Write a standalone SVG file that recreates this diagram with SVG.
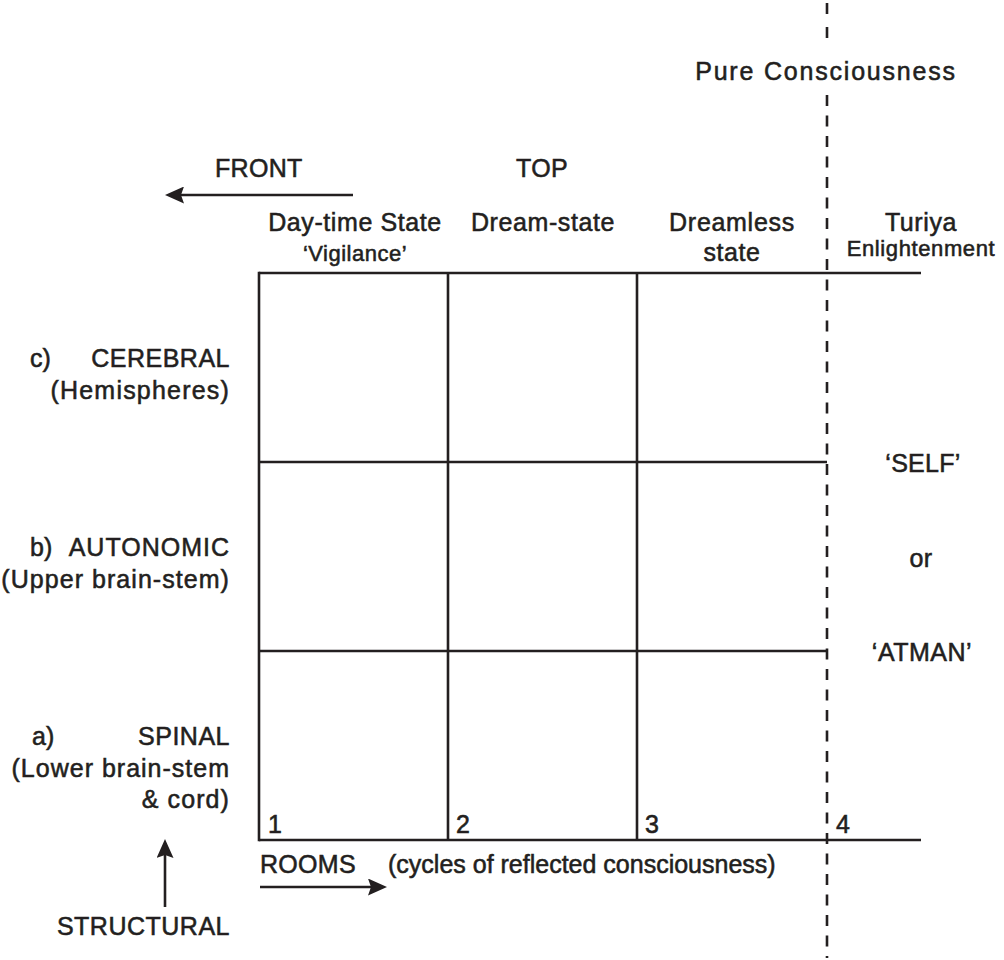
<svg xmlns="http://www.w3.org/2000/svg" width="1004" height="960" viewBox="0 0 1004 960">
<style>
  text { font-family: "Liberation Sans", Arial, sans-serif; fill: #231f20; font-size: 25px; stroke: #231f20; stroke-width: 0.55px; }
  .sm { font-size: 22px; }
  .mid { text-anchor: middle; }
  .end { text-anchor: end; }
  .ln { stroke: #231f20; stroke-width: 2.6; fill: none; }
  .dash { stroke: #231f20; stroke-width: 2.6; fill: none; stroke-dasharray: 11 9.5; }
  .arr { stroke: #231f20; stroke-width: 2.6; fill: none; marker-end: url(#ah); }
</style>
<defs>
  <marker id="ah" markerUnits="userSpaceOnUse" markerWidth="19" markerHeight="17" refX="10" refY="8.5" orient="auto">
    <path d="M0,0 L19,8.5 L0,17 L3,8.5 z" fill="#231f20"/>
  </marker>
</defs>
<rect width="1004" height="960" fill="#ffffff"/>

<g id="grid">
  <line class="ln" x1="259" y1="273" x2="921" y2="273"/>
  <line class="ln" x1="259" y1="462" x2="827" y2="462"/>
  <line class="ln" x1="259" y1="651" x2="827" y2="651"/>
  <line class="ln" x1="259" y1="840" x2="921" y2="840"/>
  <line class="ln" x1="259" y1="271.7" x2="259" y2="841.3"/>
  <line class="ln" x1="448" y1="273" x2="448" y2="840"/>
  <line class="ln" x1="637" y1="273" x2="637" y2="840"/>
</g>

<g id="pure-consciousness-line">
  <line class="dash" x1="827" y1="3" x2="827" y2="40" style="stroke-dasharray: 11 13"/>
  <line class="dash" x1="827" y1="95" x2="827" y2="958"/>
  <text x="826" y="80" class="mid" letter-spacing="1.8">Pure Consciousness</text>
</g>

<g id="connectors">
  <line class="arr" x1="353" y1="195" x2="174" y2="195"/>
  <line class="arr" x1="260" y1="887" x2="378" y2="887"/>
  <line class="arr" x1="165" y1="907" x2="165" y2="848"/>
</g>

<g id="front"><text x="215" y="177" letter-spacing="0.3">FRONT</text></g>
<g id="top"><text x="542" y="177" class="mid" letter-spacing="0.3">TOP</text></g>

<g id="col-1">
  <text x="355" y="231" class="mid" letter-spacing="0.6">Day-time State</text>
  <text x="355" y="261" class="mid sm" letter-spacing="0.5">‘Vigilance’</text>
</g>
<g id="col-2"><text x="543" y="231" class="mid" letter-spacing="0.6">Dream-state</text></g>
<g id="col-3">
  <text x="732" y="231" class="mid" letter-spacing="0.7">Dreamless</text>
  <text x="732" y="261" class="mid" letter-spacing="0.6">state</text>
</g>
<g id="col-4">
  <text x="921" y="231" class="mid" letter-spacing="0.6">Turiya</text>
  <text x="921" y="256" class="mid sm" letter-spacing="0.6">Enlightenment</text>
</g>

<g id="row-c">
  <text x="30" y="367">c)</text>
  <text x="230" y="367" class="end" letter-spacing="0.5">CEREBRAL</text>
  <text x="230" y="399" class="end" letter-spacing="1.2">(Hemispheres)</text>
</g>
<g id="row-b">
  <text x="30" y="556">b)</text>
  <text x="230" y="556" class="end" letter-spacing="1.0">AUTONOMIC</text>
  <text x="230" y="588" class="end" letter-spacing="1.05">(Upper brain-stem)</text>
</g>
<g id="row-a">
  <text x="32" y="745">a)</text>
  <text x="230" y="745" class="end" letter-spacing="0.5">SPINAL</text>
  <text x="230" y="777" class="end" letter-spacing="1.0">(Lower brain-stem</text>
  <text x="230" y="808" class="end" letter-spacing="1.1">&amp; cord)</text>
</g>

<g id="room-numbers">
  <text x="268" y="833">1</text>
  <text x="456" y="833">2</text>
  <text x="645" y="833">3</text>
  <text x="836" y="833">4</text>
</g>

<g id="self">
  <text x="923" y="472" class="mid" letter-spacing="0.3">‘SELF’</text>
  <text x="921" y="567" class="mid" letter-spacing="0.5">or</text>
  <text x="922" y="661" class="mid" letter-spacing="0.5">‘ATMAN’</text>
</g>

<g id="rooms">
  <text x="260" y="873" letter-spacing="0.3">ROOMS</text>
  <text x="388" y="873">(cycles of reflected consciousness)</text>
</g>

<g id="structural"><text x="230" y="935" class="end" letter-spacing="0.5">STRUCTURAL</text></g>
</svg>
